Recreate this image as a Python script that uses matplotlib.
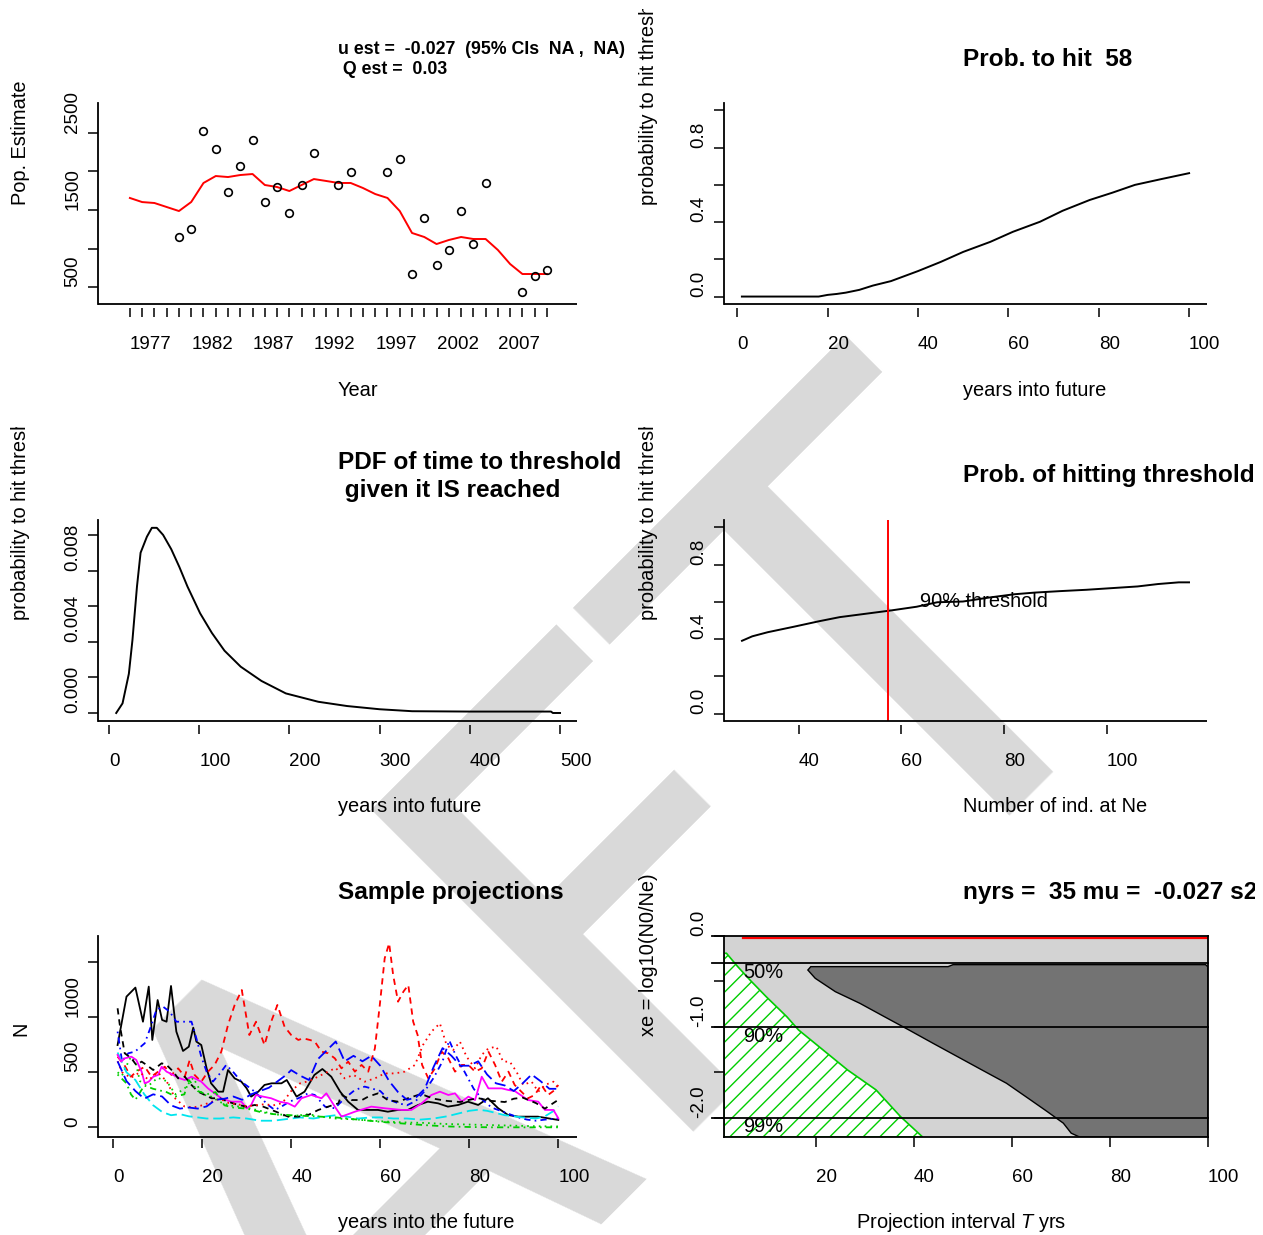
import numpy as np
import matplotlib
matplotlib.use("Agg")
import matplotlib.pyplot as plt
from matplotlib.transforms import Bbox, TransformedBbox

plt.rcParams['font.family'] = ['Liberation Sans', 'DejaVu Sans']
plt.rcParams['mathtext.fontset'] = 'custom'
plt.rcParams['mathtext.rm'] = 'Liberation Sans'
plt.rcParams['mathtext.it'] = 'Liberation Sans:italic'
plt.rcParams['hatch.linewidth'] = 1.0
plt.rcParams['lines.scale_dashes'] = False

# ---------------- data ----------------
# Panel 1: population estimates
years = list(range(1977, 2012))
trend_values = [1656, 1603, 1591, 1539, 1487, 1604, 1850, 1940, 1927, 1953, 1966, 1824,
                1798, 1746, 1824, 1901, 1876, 1850, 1850, 1785, 1707, 1656, 1487, 1203,
                1151, 1060, 1112, 1151, 1125, 1125, 983, 801, 672, 672, 672]
est_years = [1981, 1982, 1983, 1984, 1985, 1986, 1987, 1988, 1989, 1990, 1991, 1992, 1994,
             1995, 1998, 1999, 2000, 2001, 2002, 2003, 2004, 2005, 2006, 2009, 2010, 2011]
est_values = [1151, 1254, 2522, 2290, 1733, 2070, 2406, 1604, 1798, 1461, 1824, 2238, 1824,
              1992, 1992, 2160, 672, 1397, 789, 983, 1487, 1060, 1850, 439, 646, 724]
year_tick_labels = ['1977', '1982', '1987', '1992', '1997', '2002', '2007']

# Panel 2: probability to hit threshold vs years into future
p2_t = [1, 18, 20, 22, 24, 27, 30, 34, 40, 45, 50, 56, 61, 67, 72, 78, 83, 88, 94, 100]
p2_p = [0, 0, 0.009, 0.014, 0.021, 0.036, 0.059, 0.083, 0.137, 0.186, 0.240, 0.294,
        0.348, 0.402, 0.461, 0.519, 0.558, 0.600, 0.632, 0.663]

# Panel 3: PDF of time to threshold
p3_t = [8, 15, 22, 26, 31, 35, 42, 47.5, 53, 60, 69, 78, 87, 101, 114, 128, 146, 169,
        196, 232, 264, 300, 336, 400, 490, 492, 500]
p3_pdf = [0, 0.00054, 0.0022, 0.0041, 0.0071, 0.0090, 0.0099, 0.0104, 0.0104, 0.0100,
          0.0092, 0.0082, 0.0071, 0.0056, 0.0045, 0.0035, 0.0026, 0.0018, 0.0011,
          0.00063, 0.00039, 0.00021, 0.0001, 0.00008, 0.00008, 0, 0]

# Panel 4: probability of hitting threshold vs Ne
p4_n = [29, 31, 34, 39, 44, 48, 53, 58, 63, 67, 72, 77, 82, 86, 91, 96, 101, 106, 110, 114, 116]
p4_p = [0.391, 0.415, 0.437, 0.466, 0.496, 0.518, 0.536, 0.554, 0.574, 0.598, 0.602, 0.623,
        0.641, 0.650, 0.658, 0.665, 0.674, 0.683, 0.696, 0.705, 0.705]
threshold_ne = 57.5
threshold_label_pos = (63.6, 0.60)

# Panel 5: sample projections (10 runs)
s1_t = [1, 3, 5, 6.7, 8, 8.8, 10, 11, 12, 13, 14.2, 15.7, 17, 18, 18.7, 19.8, 21, 22, 23.6, 24.7,
        25.8, 27.3, 28.8, 30, 31, 32.6, 34, 35.6, 37.8, 39, 41.2, 43, 45.2, 47, 49, 51, 52.8, 55,
        57.3, 59.5, 61.7, 64, 66.2, 68.5, 70.7, 73, 75.2, 77.5, 79.7, 82, 84.2, 86.5, 88.7, 91,
        93.2, 95.4, 97.7, 100]
s1_v = [748, 1188, 1270, 960, 1279, 794, 1157, 976, 960, 1285, 870, 694, 733, 906, 779, 748, 536,
        400, 324, 324, 521, 445, 415, 354, 279, 324, 385, 400, 400, 430, 279, 324, 476, 530, 460,
        324, 233, 158, 158, 158, 142, 158, 158, 203, 233, 218, 188, 203, 233, 203, 264, 173, 112,
        97, 97, 97, 82, 67]
s2_t = [1, 2.5, 4, 5.2, 7.1, 8.6, 10.1, 11.6, 13.1, 14.6, 16.1, 17.2, 18.3, 19.8, 21.3, 22.8, 24.3,
        25.8, 27.3, 28.9, 30.6, 32.1, 34, 35.5, 36.9, 38.5, 40, 41.6, 42.7, 44.2, 45.3, 46.8, 48.3,
        49.8, 51.3, 52.8, 54.3, 55.8, 57.3, 58.8, 59.9, 61, 62, 62.9, 64, 65.2, 66.3, 67.4, 68.4,
        69.4, 70.8, 72.3, 73.8, 75.3, 76.8, 78.3, 79.8, 81.3, 82.8, 84.3, 85.8, 87.3, 88.8, 90.2,
        91.7, 93.2, 94.7, 96.2, 97.7, 99.2, 100]
s2_v = [642, 567, 460, 506, 551, 460, 506, 551, 476, 536, 460, 612, 476, 415, 506, 567, 688, 930,
        1112, 1248, 839, 960, 748, 960, 1112, 915, 839, 794, 809, 794, 779, 688, 673, 627, 536, 597,
        506, 567, 506, 718, 1112, 1536, 1673, 1385, 1142, 1233, 1294, 960, 839, 567, 445, 536, 688,
        627, 506, 567, 567, 506, 536, 688, 567, 415, 506, 385, 324, 264, 294, 385, 294, 339, 385]
s3_t = [1, 2, 3, 4, 5, 6, 8, 10, 12, 14, 16, 18, 20, 22, 24, 26, 28, 30, 32, 34, 36, 38, 40, 42,
        44, 46, 48, 50, 55, 60, 65, 70, 75, 80, 85, 90, 95, 100]
s3_v = [500, 470, 560, 640, 600, 420, 380, 450, 420, 300, 350, 450, 300, 280, 230, 200, 190, 180,
        160, 140, 120, 110, 100, 110, 120, 100, 90, 80, 70, 55, 45, 40, 30, 25, 20, 15, 10, 8]
s4_t = [1, 2, 3.4, 4.9, 7.1, 8.6, 9.7, 11.2, 12.7, 14.2, 15.7, 17.6, 18.7, 19.8, 21, 22.4, 24,
        25.4, 26.9, 28.8, 30.3, 31.8, 33.3, 34.8, 36.3, 37.8, 39.6, 41.6, 43.8, 45.3, 47.6, 49.8,
        52, 54.3, 56.5, 58, 60, 62, 64, 66, 68, 70, 72, 74, 75.5, 77, 79, 81, 83, 85, 87, 89, 91,
        93, 95, 97, 100]
s4_v = [870, 600, 673, 688, 764, 930, 1067, 1097, 1051, 960, 960, 960, 809, 642, 506, 415, 490,
        567, 506, 415, 370, 324, 264, 203, 158, 188, 233, 264, 309, 294, 188, 173, 264, 339, 370,
        354, 330, 250, 220, 200, 240, 330, 450, 600, 790, 650, 500, 350, 250, 180, 150, 120, 90,
        70, 60, 70, 80]
s5_t = [1, 3, 5, 7, 9, 11, 13, 15, 17, 19, 21, 24, 27, 30, 33, 36, 38, 40, 42, 45, 48, 50, 52,
        55, 58, 60, 63, 66, 69, 72, 75, 78, 80, 82, 84, 86, 88, 90, 92, 95, 97, 99, 100]
s5_v = [680, 500, 430, 300, 200, 140, 110, 120, 100, 90, 80, 80, 90, 80, 60, 60, 70, 80, 90, 80,
        100, 110, 100, 80, 90, 90, 80, 80, 70, 80, 100, 130, 150, 160, 150, 130, 110, 100, 90, 80,
        100, 150, 190]
s6_t = [1, 1.8, 2.6, 4.1, 5.2, 6.4, 7.1, 8, 9, 10.1, 10.9, 12, 13.5, 15, 16.1, 17.6, 19.8, 21.3,
        22.8, 24.3, 26.5, 28.8, 30, 31, 32.1, 33.7, 35.5, 37.4, 39.3, 40.8, 42.3, 44.5, 46.8, 47.9,
        49.8, 51.3, 54.3, 58, 61, 64.8, 67, 69.3, 71.5, 73.4, 75.3, 76.8, 78.3, 79.8, 81.3, 82.8,
        84.3, 85.8, 87.3, 88.8, 90.2, 93.2, 95.5, 97, 98.9, 100]
s6_v = [658, 597, 627, 642, 612, 506, 400, 415, 460, 476, 551, 506, 476, 445, 430, 460, 415, 354,
        309, 264, 233, 233, 173, 203, 294, 279, 264, 233, 218, 188, 264, 294, 264, 309, 188, 97,
        142, 188, 173, 158, 158, 218, 294, 324, 294, 309, 233, 279, 248, 460, 354, 354, 354, 339,
        330, 248, 233, 158, 158, 82]
s7_t = [1, 1.5, 2.6, 4.1, 5.2, 6.4, 7.5, 9, 10.9, 12, 13.5, 14.6, 16.1, 17.6, 19.1, 20.6, 22.1,
        24, 25.8, 28.1, 30, 31.8, 33.7, 35.6, 37.5, 39.3, 41.6, 43.8, 46.1, 48.3, 50.6, 51.3, 53.6,
        55.9, 57.3, 59.5, 61.7, 64, 66.2, 68.5, 70, 72, 75, 78, 80, 82, 85, 88, 90, 92, 95, 97, 100]
s7_v = [1082, 930, 673, 627, 567, 597, 567, 521, 582, 567, 506, 445, 460, 385, 324, 294, 264, 264,
        233, 203, 188, 203, 188, 158, 127, 97, 97, 112, 158, 188, 218, 294, 248, 248, 279, 309, 248,
        233, 264, 294, 290, 260, 240, 230, 250, 265, 240, 230, 260, 270, 220, 170, 250]
s8_t = [1, 2, 4, 6, 8, 10, 12, 14, 16, 18, 20, 22, 24, 26, 28, 30, 32, 34, 36, 38, 40, 42, 44, 46,
        48, 50, 52, 54, 56.5, 58.8, 61, 63.3, 65.5, 67.8, 69.6, 71.5, 73.4, 74.9, 76.4, 77.9, 79.4,
        81.3, 82.8, 84.3, 86.1, 87.6, 89.1, 90.6, 92.1, 94, 95.5, 97, 98.9, 100]
s8_v = [600, 500, 450, 500, 430, 500, 420, 260, 190, 180, 200, 230, 260, 220, 210, 190, 200, 210,
        200, 220, 330, 400, 420, 460, 500, 540, 445, 476, 415, 445, 490, 490, 506, 567, 748, 870,
        945, 748, 703, 779, 642, 536, 658, 718, 733, 597, 597, 506, 385, 415, 324, 385, 415, 354]
s9_t = [1, 3, 4, 5, 7, 9, 12, 14, 16, 17, 19, 21, 23, 25, 27, 30, 33, 36, 40, 45, 50, 55, 60, 65,
        70, 75, 80, 85, 90, 95, 100]
s9_v = [480, 400, 300, 250, 380, 350, 320, 280, 300, 430, 330, 300, 320, 200, 180, 170, 140, 120,
        110, 100, 90, 70, 50, 35, 20, 8, 3, 0, 0, 0, 0]
s10_t = [1, 3, 5, 7, 9, 11, 13, 15, 17, 19, 21, 23, 25, 27, 29, 31, 33, 35, 37, 39, 40, 42, 44,
         46, 48, 50, 52, 54, 56, 58, 60, 62, 64, 66, 68, 70, 72, 74, 76, 78, 80, 82, 84, 86, 88,
         90, 92, 94, 96, 98, 100]
s10_v = [600, 420, 330, 260, 300, 280, 200, 170, 180, 170, 190, 250, 260, 280, 250, 300, 330, 360,
         420, 480, 520, 470, 430, 620, 700, 780, 600, 650, 600, 650, 560, 420, 320, 250, 270, 350,
         550, 720, 650, 560, 560, 600, 480, 400, 380, 330, 400, 480, 420, 350, 350]

# Panel 6: contour regions in (T, xe) space
prob_levels = [0.5, 0.1, 0.01]
level_labels = ['50%', '90%', '99%']
dark_T = [19.0, 47, 48, 99.5, 100, 100, 73.8, 72.1, 70.5, 67.2, 63.8, 58.9, 53.9, 48.9, 43.9,
          39.0, 34.0, 29.0, 24.0, 19.9, 18.4]
dark_xe = [-0.337, -0.337, -0.315, -0.315, -0.34, -2.21, -2.21, -2.168, -2.058, -1.93, -1.802,
           -1.619, -1.473, -1.326, -1.179, -1.033, -0.887, -0.74, -0.612, -0.465, -0.374]
green_T = [1.3, 1.8, 4.1, 6.6, 9.9, 14.1, 16.5, 21.5, 26.5, 32.3, 37.3, 41.8, 1.3]
green_xe = [-0.19, -0.19, -0.337, -0.484, -0.667, -0.887, -1.033, -1.253, -1.473, -1.692,
            -1.986, -2.21, -2.21]
red_T = [5.2, 100]
red_xe = [-0.018, -0.018]

# ---------------- figure ----------------
W, H = 1263, 1235
fig = plt.figure(figsize=(W / 100, H / 100), dpi=100)
fig.patch.set_facecolor('white')

TICK_FS = 13.5
LAB_FS = 14.4
TITLE_FS = 17.6


def ftext(x, y, s, **kw):
    return fig.text(x / W, 1 - y / H, s, **kw)


def clip_text(t, x0=0, y0=0, x1=W, y1=H):
    bb = TransformedBbox(Bbox([[x0 / W, 1 - y1 / H], [x1 / W, 1 - y0 / H]]), fig.transFigure)
    t.set_clip_box(bb)
    t.set_clip_on(True)


def add_ax(x0, y0, x1, y1):
    ax = fig.add_axes([x0 / W, 1 - y1 / H, (x1 - x0) / W, (y1 - y0) / H])
    ax.patch.set_visible(False)
    return ax


def style(ax, xlim, ylim, xticks, xlabels, yticks, ylabels, xgap=4.0, box=False):
    for s in ax.spines.values():
        s.set_linewidth(1.3)
    ax.spines['top'].set_visible(box)
    ax.spines['right'].set_visible(box)
    if xgap > 0:
        ax.spines['bottom'].set_position(('outward', xgap * 0.72))
        ax.spines['bottom'].set_visible(False)
        ax.plot([0, 1], [0, 0], transform=ax.transAxes, color='black', lw=1.3,
                clip_on=False, solid_capstyle='butt')
    ax.set_xlim(*xlim)
    ax.set_ylim(*ylim)
    ax.set_yticks(yticks, ylabels, rotation=90, va='bottom', fontsize=TICK_FS)
    ax.tick_params(axis='y', direction='out', length=7.5, width=1.1, pad=4.5)
    ax.set_xticks(xticks, xlabels, ha='left', fontsize=TICK_FS)
    if xgap > 0:
        ax.tick_params(axis='x', direction='out', length=6.5, width=1.1,
                       pad=(39 - xgap - 9 - 7) * 0.72)
    else:
        ax.tick_params(axis='x', direction='out', length=7, width=1.1,
                       pad=(39 - 10 - 7) * 0.72)


def ylab(x, ybottom, s, clip_top=None):
    t = ftext(x, ybottom, s, rotation=90, ha='center', va='bottom', fontsize=LAB_FS)
    if clip_top is not None:
        clip_text(t, y0=clip_top)
    return t


# watermark behind everything
ftext(1150, 615, 'DRAFT', rotation=45, rotation_mode='anchor', ha='right', va='baseline',
      fontsize=450, color='#d9d9d9', family='DejaVu Sans', zorder=-10)

# ---- Panel 1 ----
ax1 = add_ax(98, 103, 577, 304)
ax1.plot(years, trend_values, color='red', lw=1.4)
ax1.plot(est_years, est_values, 'o', mfc='none', mec='black', ms=5.5, mew=1.2)
lab1 = [str(y) if str(y) in year_tick_labels else '' for y in years]
style(ax1, (1974.4, 2013.45), (284, 2885), years, lab1,
      [500, 1000, 1500, 2000, 2500], ['500', '', '1500', '', '2500'])
ftext(338, 49, 'u est =  -0.027  (95% CIs  NA ,  NA)', fontsize=12.8, fontweight='bold',
      ha='left', va='center')
ftext(338, 70, ' Q est =  0.03', fontsize=12.8, fontweight='bold', ha='left', va='center')
ftext(338, 390, 'Year', fontsize=LAB_FS, ha='left', va='center')
ylab(21, 205, 'Pop. Estimate')

# ---- Panel 2 ----
ax2 = add_ax(724, 103, 1207, 304)
ax2.plot(p2_t, p2_p, color='black', lw=1.4)
style(ax2, (-2.96, 103.96), (-0.04, 1.04), [0, 20, 40, 60, 80, 100],
      ['0', '20', '40', '60', '80', '100'],
      [0, 0.2, 0.4, 0.6, 0.8, 1.0], ['0.0', '', '0.4', '', '0.8', ''])
ftext(963, 60, 'Prob. to hit  58', fontsize=TITLE_FS, fontweight='bold', ha='left', va='center')
ftext(963, 390, 'years into future', fontsize=LAB_FS, ha='left', va='center')
ylab(649, 205, 'probability to hit threshold', clip_top=9)

# ---- Panel 3 ----
ax3 = add_ax(98, 520, 577, 721)
ax3.plot(p3_t, p3_pdf, color='black', lw=1.4)
style(ax3, (-12.2, 518.8), (-0.00045, 0.01084), [0, 100, 200, 300, 400, 500],
      ['0', '100', '200', '300', '400', '500'],
      [0, 0.002, 0.004, 0.006, 0.008, 0.010], ['0.000', '', '0.004', '', '0.008', ''])
ftext(338, 463, 'PDF of time to threshold', fontsize=TITLE_FS, fontweight='bold',
      ha='left', va='center')
ftext(338, 491, ' given it IS reached', fontsize=TITLE_FS, fontweight='bold',
      ha='left', va='center')
ftext(338, 807, 'years into future', fontsize=LAB_FS, ha='left', va='center')
ylab(21, 620, 'probability to hit threshold', clip_top=427)

# ---- Panel 4 ----
ax4 = add_ax(724, 520, 1207, 721)
ax4.plot(p4_n, p4_p, color='black', lw=1.4)
ax4.axvline(threshold_ne, color='red', lw=1.4)
ax4.text(threshold_label_pos[0], threshold_label_pos[1], '90% threshold', fontsize=LAB_FS,
         ha='left', va='center')
style(ax4, (25.5, 119.5), (-0.04, 1.04), [40, 60, 80, 100], ['40', '60', '80', '100'],
      [0, 0.2, 0.4, 0.6, 0.8, 1.0], ['0.0', '', '0.4', '', '0.8', ''])
ftext(963, 476, 'Prob. of hitting threshold', fontsize=TITLE_FS, fontweight='bold',
      ha='left', va='center')
ftext(963, 807, 'Number of ind. at Ne', fontsize=LAB_FS, ha='left', va='center')
ylab(649, 620, 'probability to hit threshold', clip_top=427)

# ---- Panel 5 ----
ax5 = add_ax(98, 936, 577, 1137)
dashed = (0, (4.5, 3.5))
dotted = (0, (1.2, 3))
dotdash = (0, (1.2, 3, 4.5, 3))
longdash = (0, (8, 3.5))
series = [
    (s1_t, s1_v, 'black', '-'),
    (s2_t, s2_v, 'red', dashed),
    (s3_t, s3_v, '#00CD00', dotted),
    (s4_t, s4_v, 'blue', dotdash),
    (s5_t, s5_v, '#00E5EE', longdash),
    (s6_t, s6_v, '#FF00FF', '-'),
    (s7_t, s7_v, 'black', dashed),
    (s8_t, s8_v, 'red', dotted),
    (s9_t, s9_v, '#00CD00', dotdash),
    (s10_t, s10_v, 'blue', longdash),
]
for t, v, c, ls in series:
    ax5.plot(t, v, color=c, ls=ls, lw=1.3)
style(ax5, (-3.4, 104.2), (-88, 1739), [0, 20, 40, 60, 80, 100],
      ['0', '20', '40', '60', '80', '100'],
      [0, 500, 1000, 1500], ['0', '500', '1000', ''], xgap=2)
ftext(338, 893, 'Sample projections', fontsize=TITLE_FS, fontweight='bold',
      ha='left', va='center')
ftext(338, 1222, 'years into the future', fontsize=LAB_FS, ha='left', va='center')
ylab(21, 1036, 'N')

# ---- Panel 6 ----
ax6 = add_ax(724, 936, 1208, 1137)
ax6.set_facecolor('#D3D3D3')
ax6.patch.set_visible(True)
ax6.fill(dark_T, dark_xe, facecolor='#737373', edgecolor='black', lw=1.0)
ax6.fill(green_T, green_xe, facecolor='white', edgecolor='#00CD00', hatch='//', lw=1.2)
ax6.plot(red_T, red_xe, color='red', lw=1.6)
for lvl, lab in zip(prob_levels, level_labels):
    y = np.log10(lvl)
    ax6.plot([-12 / 484, 1], [y, y], transform=ax6.get_yaxis_transform(), color='black',
             lw=1.3, clip_on=False)
    ax6.text(5.3, y - 0.1, lab, fontsize=LAB_FS, ha='left', va='center')
ax6.plot([-12 / 484, 0], [0, 0], transform=ax6.get_yaxis_transform(), color='black',
         lw=1.3, clip_on=False)
style(ax6, (1.3, 100), (-2.21, 0), [20, 40, 60, 80, 100], ['20', '40', '60', '80', '100'],
      [0, -0.5, -1.0, -1.5, -2.0], ['0.0', '', '-1.0', '', '-2.0'], xgap=0, box=True)
t6 = ftext(963, 893, 'nyrs =  35 mu =  -0.027 s2 =  0.03', fontsize=TITLE_FS,
           fontweight='bold', ha='left', va='center')
clip_text(t6, x1=1255)
ftext(961, 1222, r'Projection interval $\mathit{T}$ yrs', fontsize=LAB_FS, ha='center',
      va='center')
ylab(649, 1036, 'xe = log10(N0/Ne)')

fig.savefig('out.png', dpi=100)
